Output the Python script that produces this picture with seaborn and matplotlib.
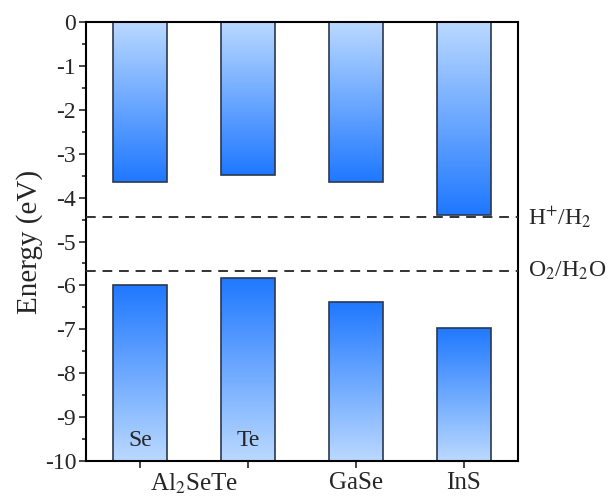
# band edges of the 2D materials vs water redox levels

import numpy as np
import matplotlib
matplotlib.use("Agg")
import matplotlib.pyplot as plt
from matplotlib.colors import LinearSegmentedColormap
from matplotlib.ticker import MultipleLocator
import seaborn as sb

materials = ["Al2SeTe-Se", "Al2SeTe-Te", "GaSe", "InS"]
cbm = [-3.65, -3.49, -3.64, -4.39]
vbm = [-5.98, -5.82, -6.37, -6.97]
bar_texts = ["Se", "Te", "", ""]
tick_labels = ["", "", "GaSe", "InS"]
h_level = -4.44
o_level = -5.67

sb.set_style("ticks")
plt.rcParams["font.family"] = ["Liberation Serif", "DejaVu Serif"]
plt.rcParams["mathtext.fontset"] = "stix"
plt.rcParams["axes.unicode_minus"] = False

fig = plt.figure(figsize=(6.08, 4.97), dpi=100)
ax = fig.add_axes([0.1414, 0.0724, 0.7105, 0.8833])

ymin = -10
edge = "#2b3850"
sb.barplot(x=materials, y=cbm, width=0.5, color="w", edgecolor=edge, linewidth=1.2, ax=ax)
n_top = len(ax.patches)
sb.barplot(x=materials, y=[v - ymin for v in vbm], bottom=ymin, width=0.5, color="w",
           edgecolor=edge, linewidth=1.2, ax=ax)

light = (0.73, 0.85, 1.0)
dark = (0.12, 0.47, 1.0)
cmap = LinearSegmentedColormap.from_list("bl", [light, dark])
grad = np.linspace(0, 1, 256).reshape(-1, 1)

for i, p in enumerate(ax.patches):
    x0, y0 = p.get_x(), p.get_y()
    w, h = p.get_width(), p.get_height()
    ya, yb = sorted([y0, y0 + h])
    # origin lower: first row sits at the bottom of the bar
    if i < n_top:
        img = grad[::-1]   # dark at bottom, light at top
    else:
        img = grad         # light at bottom, dark at top
    im = ax.imshow(img, cmap=cmap, aspect="auto", extent=[x0, x0 + w, ya, yb],
                   origin="lower", zorder=1.5)
    im.set_clip_path(p)
    p.set_facecolor("none")
    p.set_zorder(2)

ax.axhline(h_level, color="#333333", lw=1.4, ls=(0, (5, 3.5)), zorder=3)
ax.axhline(o_level, color="#333333", lw=1.4, ls=(0, (5, 3.5)), zorder=3)

for i, t in enumerate(bar_texts):
    if t:
        ax.text(i, -9.53, t, ha="center", va="center", fontsize=17, zorder=4)

ax.text(1.023, h_level, "H$^{+}$/H$_2$", transform=ax.get_yaxis_transform(),
        ha="left", va="center", fontsize=17)
ax.text(1.023, o_level, "O$_2$/H$_2$O", transform=ax.get_yaxis_transform(),
        ha="left", va="center", fontsize=17)

ax.set_xlim(-0.5, 3.5)
ax.set_ylim(-10, 0)
ax.yaxis.set_major_locator(MultipleLocator(1))
ax.yaxis.set_minor_locator(MultipleLocator(0.5))
ax.set_xticks(range(len(materials)))
ax.set_xticklabels(tick_labels, fontsize=18)
ax.text(0.5, -0.025, "Al$_2$SeTe", transform=ax.get_xaxis_transform(),
        ha="center", va="top", fontsize=18)
ax.tick_params(axis="y", labelsize=17, direction="out", length=5, width=1.2, pad=2)
ax.tick_params(axis="y", which="minor", length=3, width=1.2)
ax.tick_params(axis="x", direction="out", length=5, width=1.2, pad=3)
ax.set_ylabel("Energy (eV)", fontsize=21, labelpad=1)
ax.set_xlabel("")
for s in ax.spines.values():
    s.set_visible(True)
    s.set_linewidth(1.5)
    s.set_color("black")

fig.savefig("out.png", dpi=100)
